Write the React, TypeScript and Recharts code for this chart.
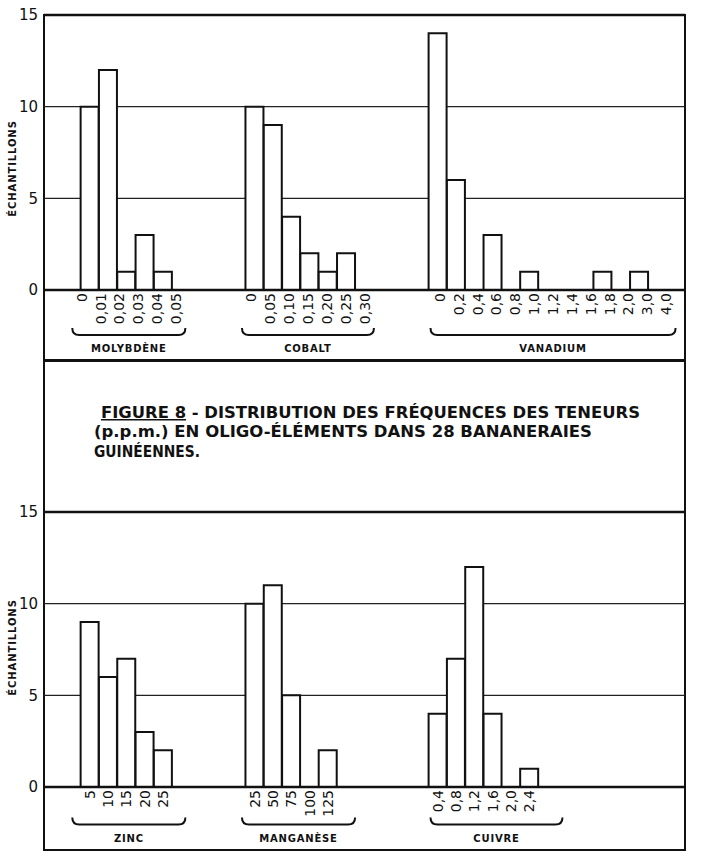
import React from 'react';
import { BarChart, Bar, XAxis, YAxis, CartesianGrid, ReferenceLine } from 'recharts';

const FONT = '"DejaVu Sans", Arial, sans-serif';

// top panel: class limits (p.p.m.) and number of samples per class
const molyEdges = ['0', '0,01', '0,02', '0,03', '0,04', '0,05'];
const molyCounts = [10, 12, 1, 3, 1];
const cobaltEdges = ['0', '0,05', '0,10', '0,15', '0,20', '0,25', '0,30'];
const cobaltCounts = [10, 9, 4, 2, 1, 2];
const vanadiumEdges = ['0', '0,2', '0,4', '0,6', '0,8', '1,0', '1,2', '1,4', '1,6', '1,8', '2,0', '3,0', '4,0'];
const vanadiumCounts = [14, 6, 0, 3, 0, 1, 0, 0, 0, 1, 0, 1];

// bottom panel: class centres (p.p.m.) and number of samples
const zincLabels = ['5', '10', '15', '20', '25'];
const zincCounts = [9, 6, 7, 3, 2];
const manganeseLabels = ['25', '50', '75', '100', '125'];
const manganeseCounts = [10, 11, 5, 0, 2];
const cuivreLabels = ['0,4', '0,8', '1,2', '1,6', '2,0', '2,4'];
const cuivreCounts = [4, 7, 12, 4, 0, 1];

const yTicks = [0, 5, 10, 15];

// each panel is a row of equal class slots, groups separated by empty ones
const SLOTS = 35;
const groupStarts = [2, 11, 21];

type Group = { name: string; labels: string[]; counts: number[] };

const topGroups: Group[] = [
  { name: 'MOLYBDÈNE', labels: molyEdges, counts: molyCounts },
  { name: 'COBALT', labels: cobaltEdges, counts: cobaltCounts },
  { name: 'VANADIUM', labels: vanadiumEdges, counts: vanadiumCounts },
];
const bottomGroups: Group[] = [
  { name: 'ZINC', labels: zincLabels, counts: zincCounts },
  { name: 'MANGANÈSE', labels: manganeseLabels, counts: manganeseCounts },
  { name: 'CUIVRE', labels: cuivreLabels, counts: cuivreCounts },
];

type Slot = { slot: number; count: number | null; label: string };

const buildSlots = (groups: Group[]): Slot[] => {
  const slots: Slot[] = Array.from({ length: SLOTS }, (_, i) => ({ slot: i, count: null, label: '' }));
  groups.forEach((g, gi) => {
    g.counts.forEach((c, i) => {
      const s = slots[groupStarts[gi] + i];
      s.count = c;
      s.label = g.labels[i] ?? '';
    });
  });
  return slots;
};

const topSlots = buildSlots(topGroups);
const bottomSlots = buildSlots(bottomGroups);

// edge labels for the top panel sit on class limits
const topEdgeLabels = new Map<number, string>();
topGroups.forEach((g, gi) => g.labels.forEach((l, k) => topEdgeLabels.set(groupStarts[gi] + k, l)));

const RotTick = (props: any) => {
  const { x, y, payload, labelOf } = props;
  const text = labelOf(payload.value);
  if (!text) return null;
  return (
    <text
      x={x}
      y={y}
      transform={`rotate(-90 ${x} ${y})`}
      textAnchor="end"
      dominantBaseline="central"
      fontFamily={FONT}
      fontSize={14}
      fill="#111"
    >
      {text}
    </text>
  );
};

const Brace = (props: any) => {
  const { x1, x2, y1, text } = props;
  const r = 7;
  return (
    <g>
      <path
        d={`M${x1},${y1 - r} Q${x1},${y1} ${x1 + r},${y1} L${x2 - r},${y1} Q${x2},${y1} ${x2},${y1 - r}`}
        fill="none"
        stroke="#111"
        strokeWidth={2}
      />
      <text
        x={(x1 + x2) / 2}
        y={y1 + 17}
        textAnchor="middle"
        fontFamily={FONT}
        fontSize={10}
        fontWeight="bold"
        letterSpacing={0.8}
        fill="#111"
      >
        {text}
      </text>
    </g>
  );
};

const yTitle = (dy: number) => (props: any) => {
  const { viewBox } = props;
  const x = viewBox.x + 12;
  const y = viewBox.y + viewBox.height / 2 + dy;
  return (
    <text
      x={x}
      y={y}
      transform={`rotate(-90 ${x} ${y})`}
      textAnchor="middle"
      dominantBaseline="central"
      fontFamily={FONT}
      fontSize={10}
      fontWeight="bold"
      letterSpacing={0.9}
      fill="#111"
    >
      ÉCHANTILLONS
    </text>
  );
};

const tickStyle = { fontFamily: FONT, fontSize: 15, fill: '#111' };

const Panel = ({ slots, groups, top, height, edgeLabels, titleDy, braceY }: any) => (
  <div style={{ position: 'absolute', left: 0, top, width: 706, height }}>
    <BarChart
      width={706}
      height={height}
      data={slots}
      margin={{ top: 15, right: 0, bottom: height - 15 - 275 - 30, left: 0 }}
      barCategoryGap={0}
      barGap={0}
    >
      <CartesianGrid vertical={false} stroke="#222" strokeWidth={1.3} />
      <XAxis
        dataKey="slot"
        type="category"
        hide={!!edgeLabels}
        interval={0}
        axisLine={false}
        tickLine={false}
        tickSize={0}
        tickMargin={3}
        height={edgeLabels ? 0 : 30}
        tick={<RotTick labelOf={(v: number) => slots[v]?.label} />}
      />
      <XAxis
        xAxisId="edges"
        type="number"
        domain={[0, SLOTS]}
        allowDataOverflow
        hide={!edgeLabels}
        ticks={edgeLabels ? Array.from(edgeLabels.keys()) : undefined}
        interval={0}
        axisLine={false}
        tickLine={false}
        tickSize={0}
        tickMargin={3}
        height={edgeLabels ? 30 : 0}
        tick={<RotTick labelOf={(v: number) => edgeLabels?.get(v)} />}
      />
      <YAxis
        domain={[0, 15]}
        ticks={yTicks}
        width={44}
        axisLine={false}
        tickLine={false}
        tickSize={0}
        tickMargin={6}
        tick={tickStyle}
        label={yTitle(titleDy)}
      />
      <YAxis
        yAxisId="right"
        orientation="right"
        domain={[0, 15]}
        ticks={yTicks}
        width={21}
        axisLine={false}
        tickLine={false}
        tickSize={0}
        tickMargin={4}
        tick={{ ...tickStyle, textAnchor: 'start' }}
      />
      <Bar dataKey="count" fill="#fff" stroke="#111" strokeWidth={2} isAnimationActive={false} />
      <ReferenceLine y={0} stroke="#111" strokeWidth={2.5} />
      <ReferenceLine y={15} stroke="#111" strokeWidth={2.5} />
      {groups.map((g: Group, gi: number) => (
        <ReferenceLine
          key={g.name}
          xAxisId="edges"
          ifOverflow="visible"
          segment={[
            { x: groupStarts[gi] - 0.5, y: braceY },
            { x: groupStarts[gi] + g.counts.length + 0.5, y: braceY },
          ]}
          shape={(p: any) => <Brace {...p} text={g.name} />}
        />
      ))}
    </BarChart>
  </div>
);

export default function App() {
  return (
    <div style={{ position: 'absolute', left: 0, top: 0, width: 706, height: 853, background: '#fff', overflow: 'hidden' }}>
      <div
        style={{
          position: 'absolute',
          left: 43,
          top: 14,
          width: 643,
          height: 837,
          boxSizing: 'border-box',
          borderLeft: '2px solid #111',
          borderRight: '2px solid #111',
          borderTop: '2.5px solid #111',
          borderBottom: '2.5px solid #111',
        }}
      />
      <div style={{ position: 'absolute', left: 43, top: 359, width: 643, height: 2.5, background: '#111' }} />
      <Panel slots={topSlots} groups={topGroups} top={0} height={360} edgeLabels={topEdgeLabels} titleDy={16} braceY={-2.45} />
      <Panel slots={bottomSlots} groups={bottomGroups} top={497} height={356} edgeLabels={null} titleDy={-2} braceY={-2.05} />
      <svg style={{ position: 'absolute', left: 0, top: 395 }} width={706} height={72}>
        <g fontFamily={FONT} fontSize={15} fontWeight="bold" fill="#111">
          <text x={101} y={23} textLength={539} lengthAdjust="spacingAndGlyphs">
            <tspan textDecoration="underline">FIGURE 8</tspan> - DISTRIBUTION DES FRÉQUENCES DES TENEURS
          </text>
          <text x={94} y={42} textLength={498} lengthAdjust="spacingAndGlyphs">
            (p.p.m.) EN OLIGO-ÉLÉMENTS DANS 28 BANANERAIES
          </text>
          <text x={94} y={62} textLength={106} lengthAdjust="spacingAndGlyphs">GUINÉENNES.</text>
        </g>
      </svg>
    </div>
  );
}
